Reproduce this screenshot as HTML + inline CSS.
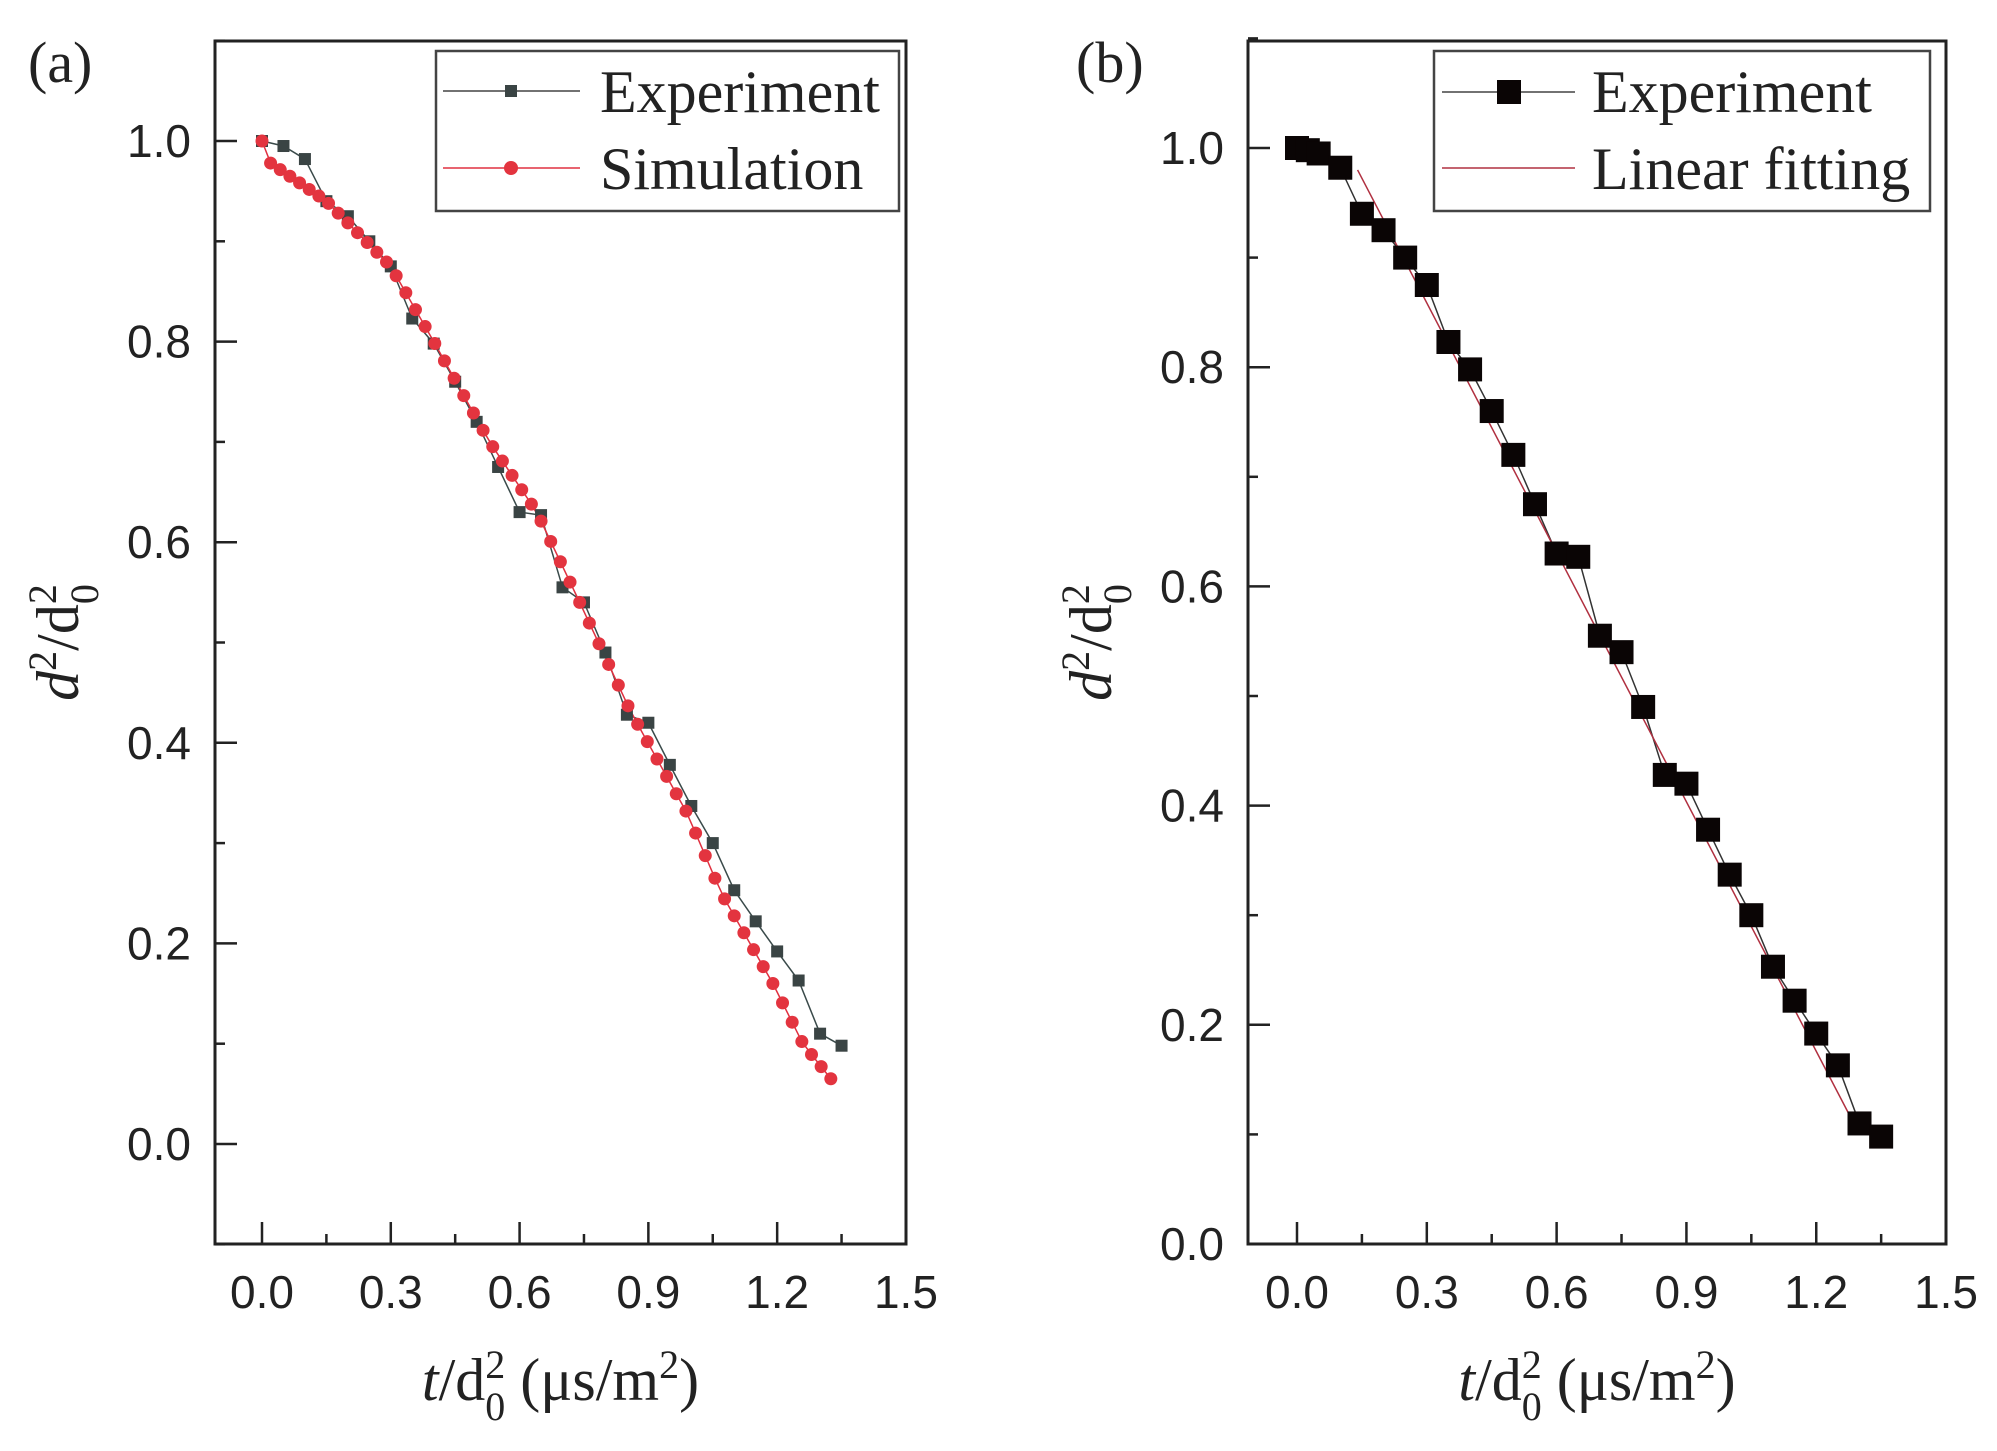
<!DOCTYPE html>
<html><head><meta charset="utf-8"><style>
html,body{margin:0;padding:0;background:#fff}
svg{display:block}
text{font-family:"Liberation Sans",sans-serif}
.s{font-family:"Liberation Serif",serif}
</style></head><body>
<svg id="c" width="1997" height="1451" viewBox="0 0 1997 1451" xmlns="http://www.w3.org/2000/svg"></svg>
<script>
const svg=document.getElementById('c');let h='';
const ex=[1.0,0.995,0.982,0.94,0.925,0.9,0.875,0.823,0.798,0.76,0.72,0.675,0.63,0.627,0.555,0.54,0.49,0.428,0.42,0.378,0.337,0.3,0.253,0.222,0.192,0.163,0.11,0.098];
function panel(L,R,T,B,x0,xs,y0,ys,ymin,ymax,lab,lx){
 const X=v=>x0+v*xs,Y=v=>y0-v*ys;
 h+=`<rect x="${L}" y="${T}" width="${R-L}" height="${B-T}" fill="none" stroke="#222" stroke-width="3"/>`;
 for(let i=0;i<=10;i++){const v=i*0.15,x=X(v),len=i%2?10:22;h+=`<line x1="${x}" y1="${B}" x2="${x}" y2="${B-len}" stroke="#222" stroke-width="2.5"/>`;
  if(i%2==0)h+=`<text x="${x}" y="${B+64}" font-size="46" text-anchor="middle" fill="#222">${(v).toFixed(1)}</text>`;}
 for(let v=Math.ceil(ymin*10);v<=Math.floor(ymax*10);v++){const y=Y(v/10),len=v%2?10:22;h+=`<line x1="${L}" y1="${y}" x2="${L+len}" y2="${y}" stroke="#222" stroke-width="2.5"/>`;
  if(v%2==0)h+=`<text x="${L-24}" y="${y+16}" font-size="46" text-anchor="end" fill="#222">${(v/10).toFixed(1)}</text>`;}
 h+=`<text class="s" x="${lx}" y="82" font-size="58" fill="#222">${lab}</text>`;
 const cx=(L+R)/2;
 h+=`<text class="s" x="${cx}" y="1400" font-size="60" text-anchor="middle" fill="#222"><tspan font-style="italic">t</tspan>/d<tspan font-size="40" dy="-22">2</tspan><tspan font-size="40" dx="-20" dy="42">0</tspan><tspan dy="-20"> (μs/m</tspan><tspan font-size="40" dy="-22">2</tspan><tspan dy="22">)</tspan></text>`;
 const yx=L-157,yy=(T+B)/2;
 h+=`<text class="s" transform="translate(${yx+20},${yy}) rotate(-90)" font-size="60" text-anchor="middle" fill="#222"><tspan font-style="italic">d</tspan><tspan font-size="40" dy="-22">2</tspan><tspan dy="22">/d</tspan><tspan font-size="40" dy="-22">2</tspan><tspan font-size="40" dx="-20" dy="42">0</tspan></text>`;
 return [X,Y];
}
// panel a
let [X,Y]=panel(215,906,41,1244,262,429.3,1144,1003,-0.1,1.1,'(a)',28);
let pts=ex.map((v,i)=>[X(i*0.05),Y(v)]);
h+=`<polyline points="${pts.map(p=>p.join(',')).join(' ')}" fill="none" stroke="#3a4a4a" stroke-width="1.5"/>`;
const sk=[[0,1.0],[0.02,0.978],[0.15,0.94],[0.3,0.875],[0.4,0.8],[0.53,0.7],[0.64,0.63],[0.74,0.54],[0.86,0.43],[0.99,0.33],[1.07,0.25],[1.19,0.16],[1.26,0.1],[1.34,0.057]];
function si(x){for(let i=0;i<sk.length-1;i++){if(x<=sk[i+1][0]){const t=(x-sk[i][0])/(sk[i+1][0]-sk[i][0]);return sk[i][1]+t*(sk[i+1][1]-sk[i][1]);}}return sk[sk.length-1][1];}
let sp=[[0,1]];for(let x=0.02;x<=1.345;x+=0.0225)sp.push([x,si(x)]);
h+=`<polyline points="${sp.map(p=>X(p[0])+','+Y(p[1])).join(' ')}" fill="none" stroke="#e03040" stroke-width="1.5"/>`;
pts.forEach(p=>h+=`<rect x="${p[0]-6}" y="${p[1]-6}" width="12" height="12" fill="#3a4444"/>`);
sp.forEach(p=>h+=`<circle cx="${X(p[0])}" cy="${Y(p[1])}" r="6.5" fill="#e3343f"/>`);
h+=`<rect x="436" y="51" width="463" height="160" fill="#fff" stroke="#444" stroke-width="2.5"/>`;
h+=`<line x1="443" y1="91" x2="580" y2="91" stroke="#444" stroke-width="1.5"/><rect x="505" y="85" width="12" height="12" fill="#3a4444"/>`;
h+=`<line x1="443" y1="168" x2="580" y2="168" stroke="#e03040" stroke-width="1.5"/><circle cx="511" cy="168" r="7" fill="#e3343f"/>`;
h+=`<text class="s" x="600" y="112" font-size="60" fill="#222">Experiment</text><text class="s" x="600" y="189" font-size="60" fill="#222">Simulation</text>`;
// panel b
[X,Y]=panel(1248,1946,41,1244,1297,432.7,1244,1096,0,1.1,'(b)',1076);
const bx=[0,0.025,0.05,0.1];for(let i=3;i<ex.length;i++)bx.push(i*0.05);
const bp=[1.0,0.998,0.995,0.982].concat(ex.slice(3));
const bpts=bp.map((v,i)=>[X(bx[i]),Y(v)]);
h+=`<polyline points="${bpts.map(p=>p.join(',')).join(' ')}" fill="none" stroke="#333" stroke-width="1.5"/>`;
h+=`<line x1="${X(0.14)}" y1="${Y(0.98)}" x2="${X(1.3)}" y2="${Y(0.1)}" stroke="#b03040" stroke-width="1.5"/>`;
bpts.forEach(p=>h+=`<rect x="${p[0]-12}" y="${p[1]-12}" width="24" height="24" fill="#0a0505"/>`);
h+=`<rect x="1434" y="51" width="496" height="160" fill="#fff" stroke="#444" stroke-width="2.5"/>`;
h+=`<line x1="1442" y1="92" x2="1575" y2="92" stroke="#444" stroke-width="1.5"/><rect x="1497" y="80" width="24" height="24" fill="#0a0505"/>`;
h+=`<line x1="1442" y1="168" x2="1575" y2="168" stroke="#b03040" stroke-width="1.5"/>`;
h+=`<text class="s" x="1592" y="112" font-size="60" fill="#222">Experiment</text><text class="s" x="1592" y="189" font-size="60" fill="#222">Linear fitting</text>`;
svg.innerHTML=h;
</script>
</body></html>
